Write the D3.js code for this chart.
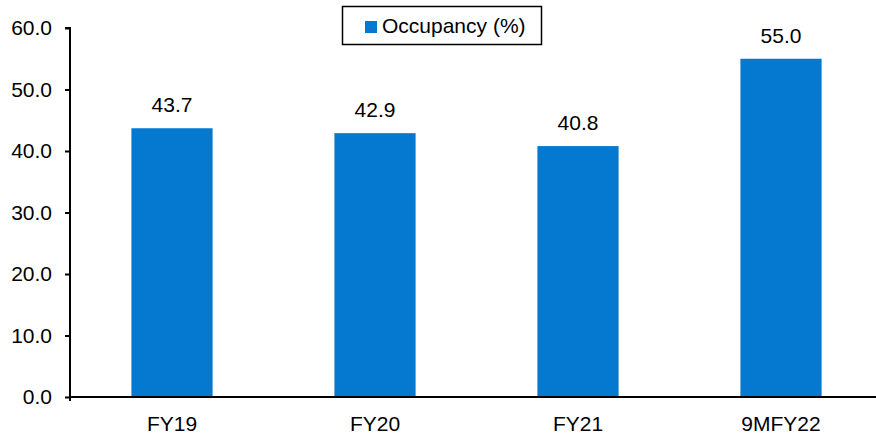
<!DOCTYPE html>
<html>
<head>
<meta charset="utf-8">
<script src="https://cdn.jsdelivr.net/npm/d3@7"></script>
<style>
  html, body { margin: 0; padding: 0; background: #fff; }
  svg { display: block; font-family: "Liberation Sans", Arial, sans-serif; }
</style>
</head>
<body>
<svg id="chart" width="876" height="435"></svg>
<script>
// Occupancy by fiscal period
const categories = ["FY19", "FY20", "FY21", "9MFY22"];
const occupancy = [43.7, 42.9, 40.8, 55.0];
const yTicks = [0, 10, 20, 30, 40, 50, 60];
const seriesName = "Occupancy (%)";

const W = 876, H = 435;
const FS = "21px";
const svg = d3.select("#chart");
const barColor = "#0579CF";

const x = d3.scaleBand().domain(categories).range([70.5, 882.5]).paddingInner(0.6).paddingOuter(0.3);
const y = d3.scaleLinear().domain([0, 60]).range([397, 28]);

// value axis
const yAxis = svg.append("g")
  .attr("transform", "translate(70,0)")
  .call(d3.axisLeft(y).tickValues(yTicks).tickFormat(d3.format(".1f")).tickSize(5).tickPadding(13));
yAxis.select(".domain").attr("stroke", "#000").attr("stroke-width", 2).attr("d", `M-5,${y(60)}H0V${y(0) + 4}`);
yAxis.selectAll(".tick line").attr("stroke", "#000").attr("stroke-width", 2);
yAxis.selectAll(".tick text").attr("fill", "#000").style("font-size", FS);

// bars
svg.append("g").selectAll("rect")
  .data(categories.map((c, i) => ({ c, v: occupancy[i] })))
  .join("rect")
  .attr("x", d => x(d.c))
  .attr("width", x.bandwidth())
  .attr("y", d => y(d.v))
  .attr("height", d => y(0) - y(d.v))
  .attr("fill", barColor);

// value labels
svg.append("g").selectAll("text")
  .data(categories.map((c, i) => ({ c, v: occupancy[i] })))
  .join("text")
  .attr("x", d => x(d.c) + x.bandwidth() / 2)
  .attr("y", d => y(d.v) - 16)
  .attr("text-anchor", "middle")
  .style("font-size", FS)
  .text(d => d.v.toFixed(1));

// category axis
const xAxis = svg.append("g")
  .attr("transform", `translate(0,${y(0)})`)
  .call(d3.axisBottom(x).tickSize(0).tickPadding(19));
xAxis.select(".domain").attr("stroke", "#000").attr("stroke-width", 2).attr("d", `M70,0H${W}`);
xAxis.selectAll(".tick text").attr("fill", "#000").style("font-size", FS);

// legend
const legend = svg.append("g").attr("transform", "translate(342,6)");
legend.append("rect").attr("x", 0.5).attr("y", 0.5).attr("width", 199).attr("height", 38)
  .attr("fill", "#fff").attr("stroke", "#000").attr("stroke-width", 1.5);
legend.append("rect").attr("x", 23).attr("y", 15).attr("width", 12).attr("height", 12).attr("fill", barColor);
legend.append("text").attr("x", 40).attr("y", 27).style("font-size", FS).text(seriesName);
</script>
</body>
</html>
